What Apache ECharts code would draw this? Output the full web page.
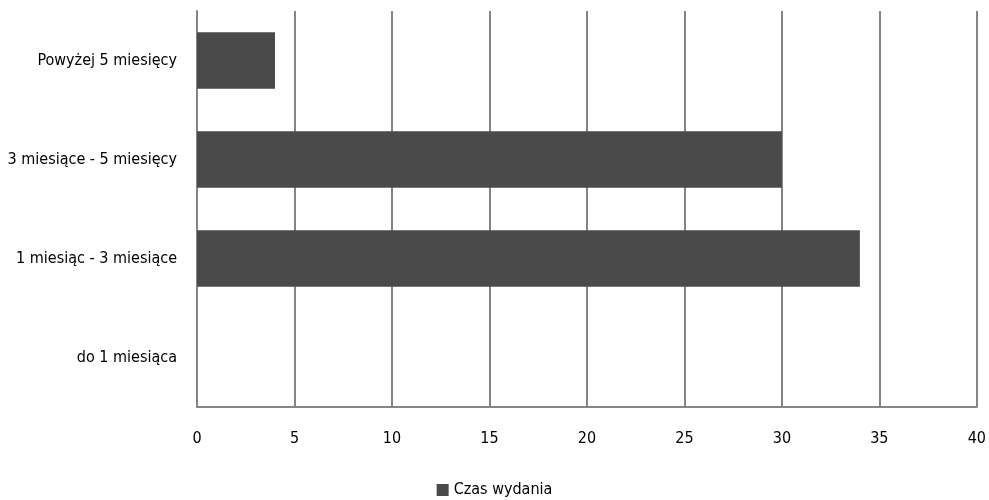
<!DOCTYPE html>
<html><head><meta charset="utf-8">
<script src="https://cdn.jsdelivr.net/npm/echarts@6/dist/echarts.min.js"></script>
<style>html,body{margin:0;padding:0;background:#fff}#c{width:989px;height:500px}</style>
</head><body><div id="c"></div>
<script>
const categories = ["do 1 miesiąca", "1 miesiąc - 3 miesiące", "3 miesiące - 5 miesięcy", "Powyżej 5 miesięcy"];
const values = [0, 34, 30, 4];
const seriesName = "Czas wydania";
const FONT = "'Liberation Sans Narrow', 'DejaVu Sans Condensed', sans-serif";
const chart = echarts.init(document.getElementById('c'), null, {renderer: 'canvas'});
chart.setOption({
  animation: false,
  textStyle: {fontFamily: FONT},
  grid: {left: 197, right: 11, top: 11, bottom: 93, containLabel: false},
  legend: {
    bottom: -3, left: 'center', itemWidth: 12, itemHeight: 12, icon: 'rect', itemGap: 4,
    textStyle: {fontFamily: FONT, fontSize: 16, color: '#000'},
    data: [seriesName]
  },
  xAxis: {
    type: 'value', min: 0, max: 40, interval: 5,
    axisLine: {show: true, lineStyle: {color: '#858585', width: 2}},
    axisTick: {show: false},
    splitLine: {show: true, lineStyle: {color: '#858585', width: 2}},
    axisLabel: {fontFamily: FONT, fontSize: 16, color: '#000', margin: 24}
  },
  yAxis: {
    type: 'category', data: categories,
    axisLine: {show: true, lineStyle: {color: '#858585', width: 2}},
    axisTick: {show: false},
    axisLabel: {fontFamily: FONT, fontSize: 16, color: '#000', margin: 20}
  },
  series: [{
    name: seriesName, type: 'bar', data: values,
    barCategoryGap: '43%',
    itemStyle: {color: '#4a4a4a'}
  }]
});
</script></body></html>
